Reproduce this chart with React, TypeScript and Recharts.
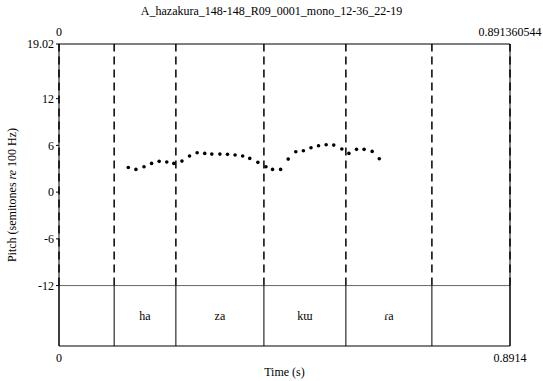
import { ScatterChart, Scatter, XAxis, YAxis, ReferenceLine, ReferenceArea, Label } from 'recharts';

const title = 'A_hazakura_148-148_R09_0001_mono_12-36_22-19';
const tEnd = 0.891360544;
const yTop = 19.02;
const yTier = -12;
const yBottom = -19.76;
const yTicks = [19.02, 12, 6, 0, -6, -12];

const times = [
  0.137, 0.152, 0.168, 0.183, 0.198, 0.213, 0.227, 0.243, 0.258, 0.273, 0.288, 0.302,
  0.318, 0.333, 0.348, 0.363, 0.377, 0.393, 0.409, 0.422, 0.438, 0.453, 0.468, 0.483,
  0.498, 0.513, 0.528, 0.543, 0.559, 0.573, 0.588, 0.603, 0.619, 0.633
];
const semitones = [
  3.17, 2.92, 3.25, 3.69, 3.95, 3.86, 3.69, 3.98, 4.63, 5.05, 4.97, 4.88,
  4.88, 4.85, 4.76, 4.63, 4.33, 3.82, 3.25, 2.92, 2.92, 4.24, 5.18, 5.31,
  5.69, 5.95, 6.08, 6.04, 5.53, 4.97, 5.49, 5.49, 5.23, 4.28
];

const boundaries = [0, 0.109, 0.231, 0.405, 0.567, 0.737, tEnd];
const labels = ['', 'ha', 'za', 'kɯ', 'ɾa', ''];

const pitch = times.map((t, i) => ({ t, st: semitones[i] }));

const font = "'Liberation Serif', 'Times New Roman', Times, serif";

const PitchLabel = ({ viewBox }: any) => {
  const cx = viewBox.x + 12;
  const cy = viewBox.y + viewBox.height / 2;
  return (
    <text
      x={cx}
      y={cy}
      transform={`rotate(-90 ${cx} ${cy})`}
      textAnchor="middle"
      dominantBaseline="central"
      fontFamily={font}
      fontSize={12}
      fill="#000"
    >
      Pitch (semitones <tspan fontStyle="italic">re</tspan> 100 Hz)
    </text>
  );
};

export default function App() {
  return (
    <div style={{ position: 'absolute', left: 0, top: 0, width: 543, height: 381, background: '#fff' }}>
      <div
        style={{
          position: 'absolute', left: 0, top: 4, width: 543, textAlign: 'center',
          fontFamily: font, fontSize: 12, color: '#000'
        }}
      >
        {title}
      </div>
      <ScatterChart width={543} height={381} margin={{ top: 24, right: 33, bottom: 0, left: 0 }}>
        <XAxis
          xAxisId="top"
          orientation="top"
          type="number"
          dataKey="t"
          domain={[0, tEnd]}
          allowDataOverflow
          ticks={[0, tEnd]}
          interval={0}
          tickFormatter={(v) => (v === 0 ? '0' : '0.891360544')}
          height={20}
          tickSize={0}
          tickMargin={8}
          axisLine={{ stroke: '#000', strokeWidth: 1 }}
          tick={{ fill: '#000', fontFamily: font, fontSize: 12 }}
        />
        <XAxis
          xAxisId="bottom"
          orientation="bottom"
          type="number"
          dataKey="t"
          domain={[0, tEnd]}
          allowDataOverflow
          ticks={[0, tEnd]}
          interval={0}
          tickFormatter={(v) => (v === 0 ? '0' : '0.8914')}
          height={35}
          tickSize={0}
          tickMargin={7}
          axisLine={{ stroke: '#000', strokeWidth: 1 }}
          tick={{ fill: '#000', fontFamily: font, fontSize: 12 }}
        >
          <Label value="Time (s)" position="insideBottom" offset={5} fill="#000" fontFamily={font} fontSize={12} />
        </XAxis>
        <YAxis
          type="number"
          dataKey="st"
          domain={[yBottom, yTop]}
          allowDataOverflow
          ticks={yTicks}
          interval={0}
          width={59}
          tickSize={3}
          tickMargin={2}
          tickFormatter={(v) => String(v)}
          axisLine={{ stroke: '#000', strokeWidth: 1 }}
          tickLine={{ stroke: '#000' }}
          tick={{ fill: '#000', fontFamily: font, fontSize: 12 }}
        >
          <Label content={<PitchLabel />} />
        </YAxis>

        {labels.map((lab, i) => (
          <ReferenceArea
            key={`iv-${i}`}
            xAxisId="bottom"
            x1={boundaries[i]}
            x2={boundaries[i + 1]}
            y1={yBottom}
            y2={yTier}
            fill="none"
            stroke="none"
            label={{ value: lab, position: 'center', fill: '#000', fontFamily: font, fontSize: 12 }}
          />
        ))}

        <ReferenceLine xAxisId="bottom" y={yTier} stroke="#666" strokeWidth={1} />
        <ReferenceLine xAxisId="bottom" x={tEnd} stroke="#000" strokeWidth={1} />

        {boundaries.map((b, i) => (
          <ReferenceLine
            key={`dash-${i}`}
            xAxisId="bottom"
            segment={[{ x: b, y: yTier }, { x: b, y: yTop }]}
            stroke="#000"
            strokeWidth={1.5}
            strokeDasharray="8 5"
          />
        ))}
        {boundaries.map((b, i) => (
          <ReferenceLine
            key={`solid-${i}`}
            xAxisId="bottom"
            segment={[{ x: b, y: yBottom }, { x: b, y: yTier }]}
            stroke="#000"
            strokeWidth={1}
          />
        ))}

        <Scatter
          xAxisId="top"
          data={pitch}
          isAnimationActive={false}
          legendType="none"
          shape={() => <g />}
        />
        <Scatter
          xAxisId="bottom"
          data={pitch}
          fill="#000"
          isAnimationActive={false}
          shape={(p: any) => <circle cx={p.cx} cy={p.cy} r={1.8} fill="#000" />}
        />
      </ScatterChart>
    </div>
  );
}
